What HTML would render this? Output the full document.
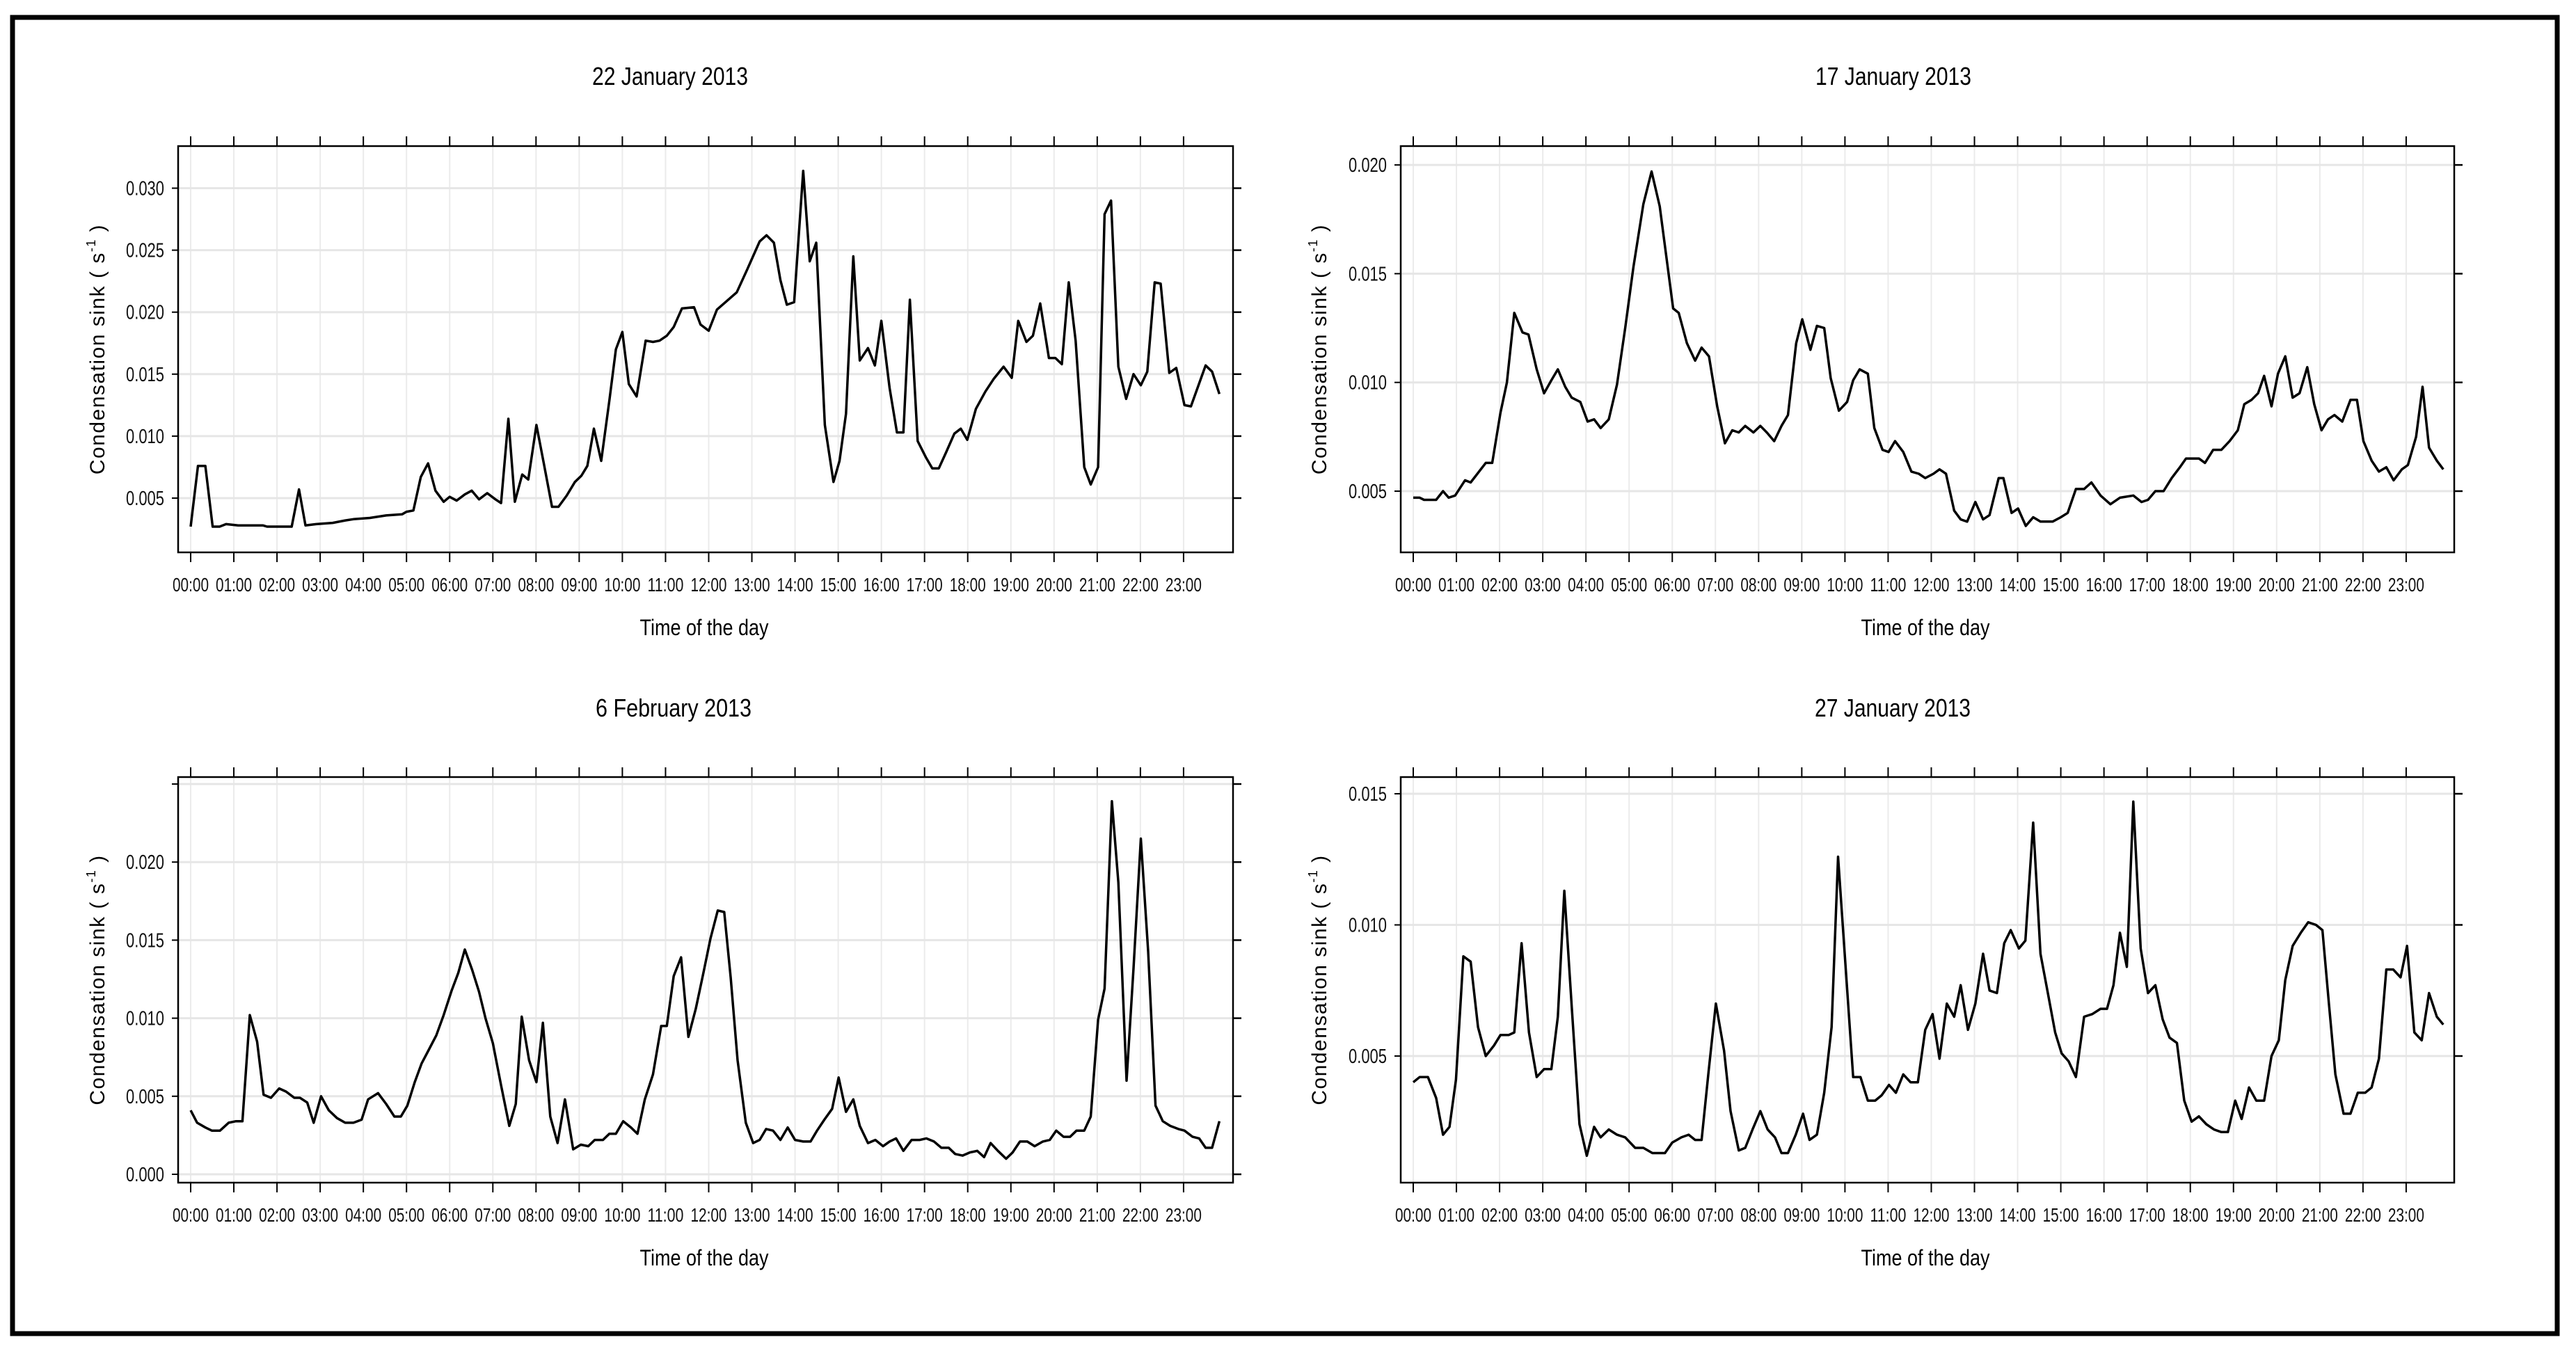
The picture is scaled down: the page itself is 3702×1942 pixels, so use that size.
<!DOCTYPE html>
<html><head><meta charset="utf-8"><style>
html,body{margin:0;padding:0;background:#fff;}
svg{display:block;}
</style></head>
<body>
<svg id="fig" width="3702" height="1942" viewBox="0 0 3702 1942" xmlns="http://www.w3.org/2000/svg" font-family="Liberation Sans, sans-serif">
<rect x="18" y="25" width="3657" height="1892" fill="none" stroke="#000" stroke-width="7"/>
</svg>
<script>
const hourLabels=["00:00","01:00","02:00","03:00","04:00","05:00","06:00","07:00","08:00","09:00","10:00","11:00","12:00","13:00","14:00","15:00","16:00","17:00","18:00","19:00","20:00","21:00","22:00","23:00"];
const titles=["22 January 2013","17 January 2013","6 February 2013","27 January 2013"];
const p1Ticks=[0.005,0.010,0.015,0.020,0.025,0.030];
const p2Ticks=[0.005,0.010,0.015,0.020];
const p3Ticks=[0.000,0.005,0.010,0.015,0.020,0.025];
const p3TickLabels=["0.000","0.005","0.010","0.015","0.020",""];
const p4Ticks=[0.005,0.010,0.015];
const p1Hours=[0,0.17,0.34,0.51,0.67,0.82,1.1,1.67,1.77,2.34,2.51,2.66,2.91,3.29,3.58,3.77,4.15,4.53,4.9,5.0,5.16,5.33,5.5,5.67,5.86,6.0,6.16,6.35,6.51,6.68,6.87,7.06,7.19,7.36,7.51,7.68,7.82,8.01,8.18,8.37,8.52,8.71,8.9,9.05,9.19,9.34,9.51,9.7,9.85,10.0,10.15,10.33,10.54,10.71,10.86,11.03,11.19,11.38,11.66,11.81,12.0,12.19,12.42,12.65,12.9,13.18,13.34,13.51,13.66,13.81,13.98,14.19,14.34,14.49,14.69,14.89,15.03,15.18,15.35,15.5,15.69,15.85,16.0,16.19,16.36,16.51,16.66,16.84,17.03,17.18,17.33,17.5,17.69,17.84,17.99,18.19,18.41,18.6,18.83,19.02,19.17,19.36,19.51,19.68,19.88,20.03,20.18,20.34,20.5,20.7,20.85,21.02,21.17,21.32,21.49,21.67,21.84,22.01,22.16,22.33,22.47,22.67,22.83,23.02,23.17,23.51,23.66,23.83];
const p1Values=[0.0027,0.0076,0.0076,0.0027,0.0027,0.0029,0.0028,0.0028,0.0027,0.0027,0.0057,0.0028,0.0029,0.0030,0.0032,0.0033,0.0034,0.0036,0.0037,0.0039,0.0040,0.0067,0.0078,0.0056,0.0047,0.0051,0.0048,0.0053,0.0056,0.0049,0.0054,0.0049,0.0046,0.0114,0.0047,0.0069,0.0065,0.0109,0.0078,0.0043,0.0043,0.0052,0.0063,0.0068,0.0076,0.0106,0.0080,0.0129,0.0170,0.0184,0.0142,0.0132,0.0177,0.0176,0.0177,0.0181,0.0188,0.0203,0.0204,0.0190,0.0185,0.0202,0.0209,0.0216,0.0235,0.0257,0.0262,0.0256,0.0226,0.0206,0.0208,0.0314,0.0241,0.0256,0.0109,0.0063,0.0080,0.0118,0.0245,0.0161,0.0171,0.0157,0.0193,0.0139,0.0103,0.0103,0.0210,0.0096,0.0083,0.0074,0.0074,0.0087,0.0102,0.0106,0.0097,0.0122,0.0136,0.0146,0.0156,0.0147,0.0193,0.0176,0.0181,0.0207,0.0163,0.0163,0.0158,0.0224,0.0177,0.0075,0.0061,0.0075,0.0279,0.0290,0.0156,0.0130,0.0150,0.0141,0.0152,0.0224,0.0223,0.0151,0.0155,0.0125,0.0124,0.0157,0.0152,0.0134];
const p2Hours=[0,0.15,0.25,0.53,0.69,0.82,0.97,1.2,1.33,1.68,1.83,2.02,2.17,2.34,2.53,2.67,2.86,3.03,3.2,3.35,3.52,3.67,3.87,4.04,4.19,4.34,4.53,4.72,4.91,5.1,5.33,5.52,5.71,6.02,6.15,6.34,6.53,6.68,6.85,7.04,7.22,7.39,7.54,7.69,7.88,8.04,8.19,8.36,8.53,8.68,8.87,9.01,9.2,9.35,9.52,9.67,9.86,10.05,10.19,10.34,10.53,10.68,10.87,11.01,11.16,11.35,11.54,11.71,11.86,12.05,12.19,12.34,12.53,12.68,12.83,13.02,13.2,13.35,13.56,13.67,13.86,14.01,14.19,14.36,14.53,14.81,15.0,15.16,15.35,15.54,15.71,15.92,16.15,16.37,16.68,16.87,17.02,17.19,17.38,17.57,17.76,17.9,18.05,18.2,18.34,18.53,18.72,18.91,19.1,19.25,19.42,19.57,19.71,19.88,20.03,20.2,20.37,20.53,20.71,20.87,21.04,21.19,21.34,21.52,21.71,21.86,22.01,22.2,22.37,22.54,22.71,22.9,23.04,23.23,23.38,23.53,23.71,23.86];
const p2Values=[0.0047,0.0047,0.0046,0.0046,0.0050,0.0047,0.0048,0.0055,0.0054,0.0063,0.0063,0.0086,0.0100,0.0132,0.0123,0.0122,0.0106,0.0095,0.0101,0.0106,0.0098,0.0093,0.0091,0.0082,0.0083,0.0079,0.0083,0.0099,0.0125,0.0153,0.0182,0.0197,0.0181,0.0134,0.0132,0.0118,0.0110,0.0116,0.0112,0.0089,0.0072,0.0078,0.0077,0.0080,0.0077,0.0080,0.0077,0.0073,0.0080,0.0085,0.0118,0.0129,0.0115,0.0126,0.0125,0.0102,0.0087,0.0091,0.0101,0.0106,0.0104,0.0079,0.0069,0.0068,0.0073,0.0068,0.0059,0.0058,0.0056,0.0058,0.0060,0.0058,0.0041,0.0037,0.0036,0.0045,0.0037,0.0039,0.0056,0.0056,0.0040,0.0042,0.0034,0.0038,0.0036,0.0036,0.0038,0.0040,0.0051,0.0051,0.0054,0.0048,0.0044,0.0047,0.0048,0.0045,0.0046,0.0050,0.0050,0.0056,0.0061,0.0065,0.0065,0.0065,0.0063,0.0069,0.0069,0.0073,0.0078,0.0090,0.0092,0.0095,0.0103,0.0089,0.0104,0.0112,0.0093,0.0095,0.0107,0.0090,0.0078,0.0083,0.0085,0.0082,0.0092,0.0092,0.0073,0.0064,0.0059,0.0061,0.0055,0.0060,0.0062,0.0075,0.0098,0.0070,0.0064,0.0060];
const p3Hours=[0,0.15,0.34,0.49,0.68,0.88,1.05,1.2,1.37,1.54,1.69,1.86,2.05,2.21,2.4,2.53,2.7,2.85,3.02,3.2,3.39,3.58,3.77,3.96,4.11,4.34,4.53,4.72,4.87,5.02,5.19,5.35,5.52,5.69,5.86,6.05,6.2,6.35,6.52,6.68,6.83,7.0,7.19,7.38,7.53,7.67,7.84,8.01,8.16,8.33,8.5,8.67,8.86,9.04,9.21,9.36,9.55,9.7,9.85,10.02,10.2,10.35,10.52,10.71,10.9,11.03,11.19,11.36,11.53,11.7,11.87,12.04,12.21,12.36,12.51,12.67,12.86,13.03,13.18,13.33,13.49,13.66,13.83,14.0,14.19,14.36,14.51,14.68,14.86,15.01,15.18,15.35,15.5,15.69,15.86,16.04,16.19,16.34,16.51,16.7,16.89,17.04,17.22,17.39,17.56,17.71,17.88,18.05,18.22,18.38,18.53,18.7,18.89,19.04,19.21,19.38,19.55,19.74,19.9,20.05,20.22,20.37,20.52,20.7,20.85,21.02,21.17,21.34,21.49,21.68,21.84,22.01,22.18,22.35,22.52,22.69,22.88,23.02,23.21,23.36,23.51,23.66,23.83];
const p3Values=[0.0041,0.0033,0.0030,0.0028,0.0028,0.0033,0.0034,0.0034,0.0102,0.0085,0.0051,0.0049,0.0055,0.0053,0.0049,0.0049,0.0046,0.0033,0.0050,0.0041,0.0036,0.0033,0.0033,0.0035,0.0048,0.0052,0.0045,0.0037,0.0037,0.0044,0.0059,0.0071,0.0080,0.0089,0.0102,0.0118,0.0129,0.0144,0.0131,0.0117,0.0100,0.0084,0.0057,0.0031,0.0045,0.0101,0.0073,0.0059,0.0097,0.0037,0.0020,0.0048,0.0016,0.0019,0.0018,0.0022,0.0022,0.0026,0.0026,0.0034,0.0030,0.0026,0.0048,0.0064,0.0095,0.0095,0.0127,0.0139,0.0088,0.0106,0.0128,0.0151,0.0169,0.0168,0.0126,0.0073,0.0033,0.0020,0.0022,0.0029,0.0028,0.0022,0.0030,0.0022,0.0021,0.0021,0.0028,0.0035,0.0042,0.0062,0.0040,0.0048,0.0031,0.0020,0.0022,0.0018,0.0021,0.0023,0.0015,0.0022,0.0022,0.0023,0.0021,0.0017,0.0017,0.0013,0.0012,0.0014,0.0015,0.0011,0.0020,0.0015,0.0010,0.0014,0.0021,0.0021,0.0018,0.0021,0.0022,0.0028,0.0024,0.0024,0.0028,0.0028,0.0037,0.0099,0.0119,0.0239,0.0187,0.0060,0.0132,0.0215,0.0143,0.0044,0.0034,0.0031,0.0029,0.0028,0.0024,0.0023,0.0017,0.0017,0.0034];
const p4Hours=[0,0.15,0.34,0.53,0.69,0.84,0.99,1.16,1.33,1.5,1.68,1.87,2.02,2.21,2.34,2.51,2.68,2.86,3.03,3.2,3.35,3.5,3.67,3.85,4.02,4.19,4.34,4.53,4.72,4.91,5.14,5.33,5.54,5.83,6.0,6.21,6.38,6.53,6.68,6.84,7.01,7.2,7.35,7.54,7.69,7.86,8.04,8.21,8.38,8.53,8.68,8.86,9.03,9.18,9.35,9.52,9.69,9.84,10.02,10.19,10.36,10.53,10.7,10.85,11.02,11.18,11.35,11.52,11.69,11.86,12.03,12.19,12.36,12.53,12.68,12.85,13.02,13.2,13.35,13.52,13.69,13.84,14.03,14.18,14.36,14.53,14.7,14.87,15.02,15.18,15.35,15.54,15.73,15.92,16.07,16.22,16.37,16.53,16.68,16.85,17.02,17.19,17.36,17.52,17.69,17.86,18.03,18.2,18.37,18.55,18.72,18.87,19.04,19.19,19.36,19.53,19.71,19.88,20.05,20.2,20.37,20.56,20.73,20.91,21.06,21.21,21.36,21.55,21.71,21.88,22.05,22.2,22.37,22.54,22.7,22.87,23.02,23.19,23.36,23.53,23.71,23.86];
const p4Values=[0.0040,0.0042,0.0042,0.0034,0.0020,0.0023,0.0041,0.0088,0.0086,0.0061,0.0050,0.0054,0.0058,0.0058,0.0059,0.0093,0.0059,0.0042,0.0045,0.0045,0.0065,0.0113,0.0069,0.0024,0.0012,0.0023,0.0019,0.0022,0.0020,0.0019,0.0015,0.0015,0.0013,0.0013,0.0017,0.0019,0.0020,0.0018,0.0018,0.0044,0.0070,0.0052,0.0029,0.0014,0.0015,0.0022,0.0029,0.0022,0.0019,0.0013,0.0013,0.0020,0.0028,0.0018,0.0020,0.0036,0.0061,0.0126,0.0083,0.0042,0.0042,0.0033,0.0033,0.0035,0.0039,0.0036,0.0043,0.0040,0.0040,0.0060,0.0066,0.0049,0.0070,0.0065,0.0077,0.0060,0.0070,0.0089,0.0075,0.0074,0.0093,0.0098,0.0091,0.0094,0.0139,0.0089,0.0074,0.0059,0.0051,0.0048,0.0042,0.0065,0.0066,0.0068,0.0068,0.0077,0.0097,0.0084,0.0147,0.0091,0.0074,0.0077,0.0064,0.0057,0.0055,0.0033,0.0025,0.0027,0.0024,0.0022,0.0021,0.0021,0.0033,0.0026,0.0038,0.0033,0.0033,0.0050,0.0056,0.0079,0.0092,0.0097,0.0101,0.0100,0.0098,0.0070,0.0043,0.0028,0.0028,0.0036,0.0036,0.0038,0.0049,0.0083,0.0083,0.0080,0.0092,0.0059,0.0056,0.0074,0.0065,0.0062];

const NS="http://www.w3.org/2000/svg";
const svg=document.getElementById('fig');
function mk(tag,attrs,parent,txt){const e=document.createElementNS(NS,tag);for(const k in attrs)e.setAttribute(k,attrs[k]);if(txt!==undefined)e.textContent=txt;(parent||svg).appendChild(e);return e;}

const panels=[
 {name:'panel-22-jan',title:titles[0],L:256,R:1772,T:210,B:794,ref:0.005,refY:716,per:89.1,ticks:p1Ticks,labels:null,hours:p1Hours,vals:p1Values,titleX:963,titleY:122,xlX:1012,xlY:913,tlY:850,ylX:150},
 {name:'panel-17-jan',title:titles[1],L:2013,R:3527,T:210,B:794,ref:0.005,refY:706,per:156.3,ticks:p2Ticks,labels:null,hours:p2Hours,vals:p2Values,titleX:2721,titleY:122,xlX:2767,xlY:913,tlY:850,ylX:1906},
 {name:'panel-6-feb',title:titles[2],L:256,R:1772,T:1117,B:1700,ref:0.0,refY:1688,per:112.2,ticks:p3Ticks,labels:p3TickLabels,hours:p3Hours,vals:p3Values,titleX:968,titleY:1030,xlX:1012,xlY:1819,tlY:1756,ylX:150},
 {name:'panel-27-jan',title:titles[3],L:2013,R:3527,T:1117,B:1700,ref:0.005,refY:1518,per:188.5,ticks:p4Ticks,labels:null,hours:p4Hours,vals:p4Values,titleX:2720,titleY:1030,xlX:2767,xlY:1819,tlY:1756,ylX:1906}
];

panels.forEach(p=>{
 const g=mk('g',{});
 
 
 const x0=p.L+18, hourW=62.04;
 const xs=h=>x0+h*hourW;
 const ys=v=>p.refY-(v-p.ref)/0.005*p.per;
 // grid
 hourLabels.forEach((lab,i)=>{
  const gl=mk('line',{x1:xs(i),x2:xs(i),y1:p.T,y2:p.B,stroke:'#ebebeb','stroke-width':2},g);
  
  
 });
 p.ticks.forEach(v=>{
  const gl=mk('line',{x1:p.L,x2:p.R,y1:ys(v),y2:ys(v),stroke:'#e6e6e6','stroke-width':3},g);
  
  
 });
 // box
 const box=mk('rect',{x:p.L,y:p.T,width:p.R-p.L,height:p.B-p.T,fill:'none',stroke:'#000','stroke-width':2.5},g);
 
 
 // x ticks & labels
 hourLabels.forEach((lab,i)=>{
  const x=xs(i);
  const t1=mk('line',{x1:x,x2:x,y1:p.T-14,y2:p.T,stroke:'#000','stroke-width':2},g);
  
  
  const t2=mk('line',{x1:x,x2:x,y1:p.B,y2:p.B+14,stroke:'#000','stroke-width':2},g);
  
  
  const tl=mk('text',{x:x,y:p.tlY,'text-anchor':'middle','font-size':28,textLength:52,lengthAdjust:'spacingAndGlyphs',fill:'#111'},g,lab);
  
  
 });
 // y ticks & labels
 p.ticks.forEach((v,i)=>{
  const y=ys(v);
  const a=mk('line',{x1:p.L-9,x2:p.L,y1:y,y2:y,stroke:'#000','stroke-width':2},g);
  
  
  const b=mk('line',{x1:p.R,x2:p.R+12,y1:y,y2:y,stroke:'#000','stroke-width':2.5},g);
  
  
  const lab=p.labels?p.labels[i]:v.toFixed(3);
  if(lab){
   const t=mk('text',{x:p.L-20,y:y+10,'text-anchor':'end','font-size':29,textLength:55,lengthAdjust:'spacingAndGlyphs',fill:'#111'},g,lab);
   
   
  }
 });
 // series
 let d='';
 p.hours.forEach((h,i)=>{d+=(i?'L':'M')+xs(h).toFixed(1)+','+ys(p.vals[i]).toFixed(1);});
 const ln=mk('path',{d:d,fill:'none',stroke:'#000','stroke-width':3.5,'stroke-linejoin':'round'},g);
 
 
 // titles
 const tt=mk('text',{x:p.titleX,y:p.titleY,'text-anchor':'middle','font-size':36,textLength:224,lengthAdjust:'spacingAndGlyphs',fill:'#000'},g,p.title);
 
 
 const xl=mk('text',{x:p.xlX,y:p.xlY,'text-anchor':'middle','font-size':32,textLength:185,lengthAdjust:'spacingAndGlyphs',fill:'#000'},g,'Time of the day');
 
 
 const cy=(p.T+p.B)/2;
 const yl=mk('text',{x:p.ylX,y:cy,'text-anchor':'middle','font-size':30,transform:'rotate(-90 '+p.ylX+' '+cy+')',fill:'#000','letter-spacing':'1.5'},g);
 
 
 mk('tspan',{},yl,'Condensation sink  ( s');
 mk('tspan',{'font-size':18,dy:-13},yl,'-1');
 mk('tspan',{dy:13},yl,' )');
});
</script>
</body></html>
